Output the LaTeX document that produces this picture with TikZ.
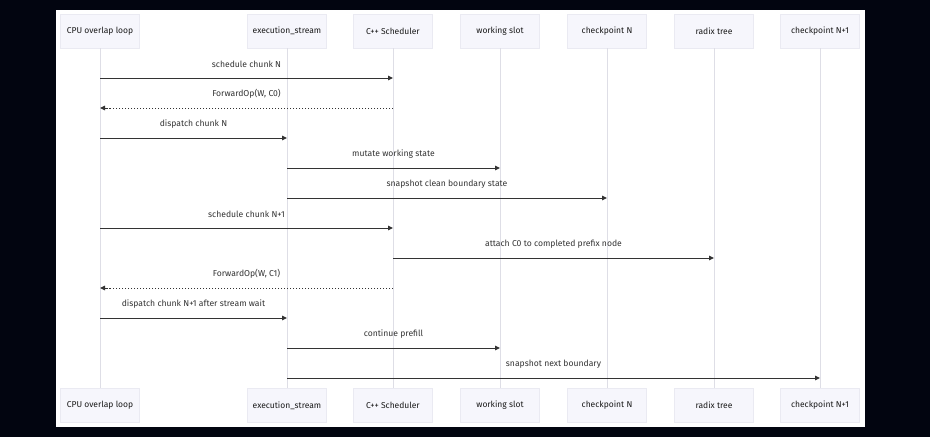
\documentclass[tikz,border=0pt]{standalone}
\usepackage{fontspec}
\setmainfont{Fira Sans}
\usetikzlibrary{positioning,arrows.meta}

\definecolor{pagebg}{RGB}{2,5,16}
\definecolor{actorfill}{RGB}{246,246,252}
\definecolor{actorline}{RGB}{234,234,242}
\definecolor{lifegray}{RGB}{222,222,230}
\definecolor{msggray}{RGB}{51,51,51}

\begin{document}
\begin{tikzpicture}[
  x=1pt, y=-1pt,
  actor/.style={
    rectangle, draw=actorline, fill=actorfill, minimum width=79pt, minimum height=34pt,
    inner sep=0pt, font=\fontsize{8.5}{10}\selectfont, text=black!90
  },
  lifeline/.style={lifegray, line width=0.9pt},
  msg/.style={-{Triangle[length=5pt,width=4.5pt]}, msggray, line width=1pt},
  reply/.style={msg, dash pattern=on 1.5pt off 1.5pt},
  lbl/.style={midway, yshift=14pt, font=\fontsize{8.6}{10}\selectfont, text=msggray}
]

% === Page and canvas ===
\fill[pagebg] (0,0) rectangle (930,437);
\fill[white] (56,10) rectangle (865,427);

% === Participants (top) ===
\node[actor] (cpuT) at (100,31) {CPU overlap loop};
\node[actor] (execT) at (287,31) {execution\_stream};
\node[actor] (schedT) at (393,31) {C++ Scheduler};
\node[actor] (slotT) at (500,31) {working slot};
\node[actor] (ckptT) at (607,31) {checkpoint N};
\node[actor] (radixT) at (714,31) {radix tree};
\node[actor] (nextT) at (820,31) {checkpoint N+1};

% === Participants (bottom) ===
\node[actor] (cpuB) at (100,405.5) {CPU overlap loop};
\node[actor] (execB) at (287,405.5) {execution\_stream};
\node[actor] (schedB) at (393,405.5) {C++ Scheduler};
\node[actor] (slotB) at (500,405.5) {working slot};
\node[actor] (ckptB) at (607,405.5) {checkpoint N};
\node[actor] (radixB) at (714,405.5) {radix tree};
\node[actor] (nextB) at (820,405.5) {checkpoint N+1};

% === Lifelines ===
\draw[lifeline] (cpuT) -- (cpuB);
\draw[lifeline] (execT) -- (execB);
\draw[lifeline] (schedT) -- (schedB);
\draw[lifeline] (slotT) -- (slotB);
\draw[lifeline] (ckptT) -- (ckptB);
\draw[lifeline] (radixT) -- (radixB);
\draw[lifeline] (nextT) -- (nextB);

% === Messages ===
% chunk N
\draw[msg] (cpuT |- 0,78) -- node[lbl] {schedule chunk N} (schedT |- 0,78);
\draw[reply] (schedT |- 0,108) -- node[lbl] {ForwardOp(W, C0)} (cpuT |- 0,108);
\draw[msg] (cpuT |- 0,138) -- node[lbl] {dispatch chunk N} (execT |- 0,138);
\draw[msg] (execT |- 0,168) -- node[lbl] {mutate working state} (slotT |- 0,168);
\draw[msg] (execT |- 0,198) -- node[lbl] {snapshot clean boundary state} (ckptT |- 0,198);

% chunk N+1
\draw[msg] (cpuT |- 0,228) -- node[lbl] {schedule chunk N+1} (schedT |- 0,228);
\draw[msg] (schedT |- 0,258) -- node[lbl] {attach C0 to completed prefix node} (radixT |- 0,258);
\draw[reply] (schedT |- 0,288) -- node[lbl] {ForwardOp(W, C1)} (cpuT |- 0,288);
\draw[msg] (cpuT |- 0,318) -- node[lbl] {dispatch chunk N+1 after stream wait} (execT |- 0,318);
\draw[msg] (execT |- 0,348) -- node[lbl] {continue prefill} (slotT |- 0,348);
\draw[msg] (execT |- 0,378) -- node[lbl] {snapshot next boundary} (nextT |- 0,378);

\end{tikzpicture}
\end{document}
